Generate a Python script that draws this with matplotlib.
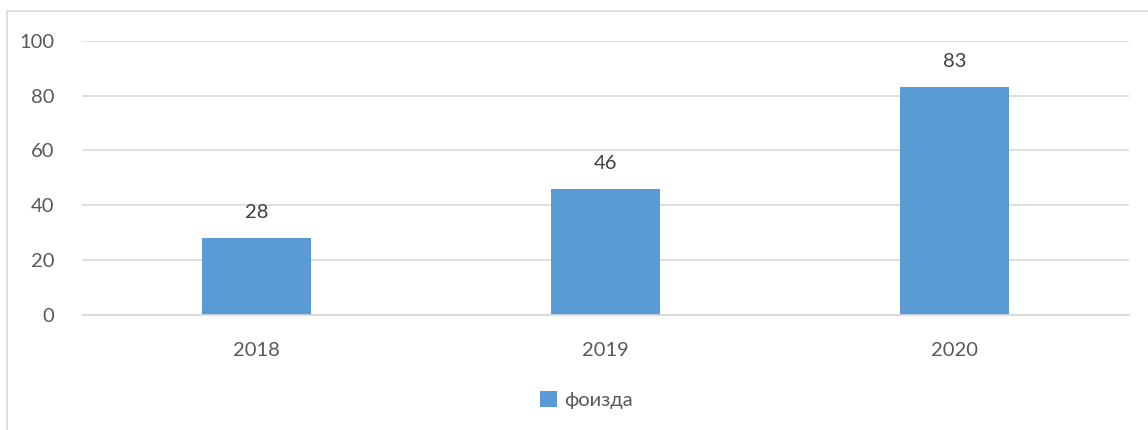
import matplotlib
matplotlib.use("Agg")
import matplotlib.pyplot as plt
from matplotlib.patches import Rectangle, Patch

categories = ["2018", "2019", "2020"]
values = [28, 46, 83]
series_name = "фоизда"
yticks = [0, 20, 40, 60, 80, 100]

W, H = 1148, 430
fig = plt.figure(figsize=(W / 100, H / 100), dpi=100)
plt.rcParams['font.family'] = ['Lato', 'DejaVu Sans']

# outer chart border (light gray), partially cropped
fig.patches.append(Rectangle((6.5 / W, -0.1), 1.2, 1 - 11.5 / H + 0.1,
                             transform=fig.transFigure, fill=False,
                             edgecolor='#D9D9D9', linewidth=1.2))

left, right = 82 / W, 1129 / W
bottom, top = 1 - 314.5 / H, 1 - 41 / H
ax = fig.add_axes([left, bottom, right - left, top - bottom])

bar_color = '#5B9BD5'
x = range(len(categories))
bars = ax.bar(x, values, width=0.315, color=bar_color, zorder=3)

ax.set_xlim(-0.5, len(categories) - 0.5)
ax.set_ylim(0, 100)
ax.set_yticks(yticks)
ax.set_xticks(list(x))
ax.set_xticklabels(categories)

for s in ['top', 'right', 'left']:
    ax.spines[s].set_visible(False)
ax.spines['bottom'].set_color('#D9D9D9')
ax.spines['bottom'].set_linewidth(1.2)
ax.spines['bottom'].set_zorder(4)

ax.yaxis.grid(True, color='#D9D9D9', linewidth=1.2, zorder=0)
ax.set_axisbelow(True)
ax.tick_params(axis='both', length=0, labelsize=14.5, labelcolor='#595959')
ax.tick_params(axis='y', pad=20)
ax.tick_params(axis='x', pad=20)

for xi, v in zip(x, values):
    ax.annotate(str(v), (xi, v), xytext=(0, 17), textcoords='offset pixels',
                ha='center', va='bottom', fontsize=14.5, color='#404040')

handle = Patch(facecolor=bar_color, edgecolor='none')
fig.legend([handle], [series_name], loc='center',
           bbox_to_anchor=(586 / W, 1 - 400 / H), frameon=False,
           fontsize=14.5, labelcolor='#595959', handlelength=0.85,
           handleheight=0.85, handletextpad=0.35)

fig.savefig("out.png", dpi=100, facecolor='white')
